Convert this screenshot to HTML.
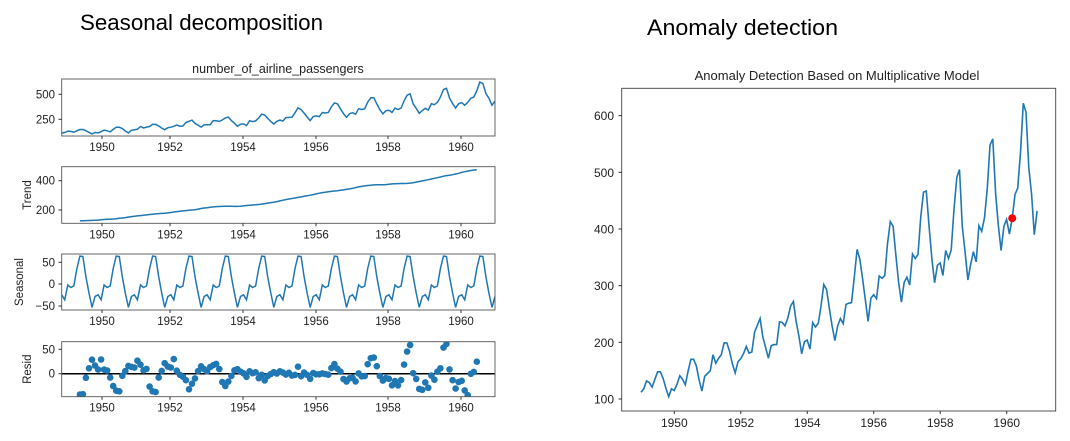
<!DOCTYPE html>
<html><head><meta charset="utf-8"><style>
html,body{margin:0;padding:0;background:#fff;width:1070px;height:441px;overflow:hidden}
svg text{font-family:"Liberation Sans","DejaVu Sans",sans-serif;fill:#222}
</style></head><body>
<svg id="s" width="1070" height="441" xmlns="http://www.w3.org/2000/svg">
<text x="80" y="30" font-size="22" fill="#000" style="fill:#000" textLength="243" lengthAdjust="spacingAndGlyphs">Seasonal decomposition</text>
<text x="647" y="35" font-size="22" style="fill:#000" textLength="191" lengthAdjust="spacingAndGlyphs">Anomaly detection</text>
<text x="278" y="73" font-size="12.5" text-anchor="middle">number_of_airline_passengers</text>
<text x="837" y="80" font-size="13" text-anchor="middle">Anomaly Detection Based on Multiplicative Model</text>
<g id="g"></g>
</svg>
<script>
var y=[112,118,132,129,121,135,148,148,136,119,104,118,115,126,141,135,125,149,170,170,158,133,114,140,145,150,178,163,172,178,199,199,184,162,146,166,171,180,193,181,183,218,230,242,209,191,172,194,196,196,236,235,229,243,264,272,237,211,180,201,204,188,235,227,234,264,302,293,259,229,203,229,242,233,267,269,270,315,364,347,312,274,237,278,284,277,317,313,318,374,413,405,355,306,271,306,315,301,356,348,355,422,465,467,404,347,305,336,340,318,362,348,363,435,491,505,404,359,310,337,360,342,406,396,420,472,548,559,463,407,362,405,417,391,419,461,472,535,622,606,508,461,390,432];
var n=144,tr=[],se=[],re=[];
for(var i=0;i<n;i++){if(i<6||i>n-7){tr.push(null);continue}var s=0.5*y[i-6]+0.5*y[i+6];for(var k=-5;k<=5;k++)s+=y[i+k];tr.push(s/12);}
var m=[];for(var j=0;j<12;j++){var s=0,c=0;for(var i=j;i<n;i+=12)if(tr[i]!=null){s+=y[i]-tr[i];c++}m.push(s/c)}
var mm=m.reduce(function(a,b){return a+b})/12;for(var j=0;j<12;j++)m[j]-=mm;
for(var i=0;i<n;i++){se.push(m[i%12]);re.push(tr[i]==null?null:y[i]-tr[i]-m[i%12]);}
var out='<defs>';var P=[[79,136],[166.7,223.3],[254,310],[341.7,396.7]];
P.forEach(function(p,k){out+='<clipPath id="c'+k+'"><rect x="61.7" y="'+p[0]+'" width="433.3" height="'+(p[1]-p[0])+'"/></clipPath>'});
out+='</defs>';
function lx(i){return 61.7+i/12*36.36}
function path(arr,fy){var d='',st=false;for(var i=0;i<n;i++){if(arr[i]==null)continue;d+=(st?'L':'M')+lx(i).toFixed(1)+' '+fy(arr[i]).toFixed(1);st=true}return d}
var fys=[function(v){return 94.3-(v-500)*0.1},function(v){return 180.7-(v-400)*0.1465},function(v){return 284-v*0.437},function(v){return 373.7-v*0.488}];
var ticks=[[[500,94.3],[250,119.3]],[[400,180.7],[200,210]],[[50,262.3],[0,284],['\u221250',306]],[[50,349.3],[0,373.7]]];
var labels=['','Trend','Seasonal','Resid'];
var xt=[102,170,243,316,388,461];
P.forEach(function(p,k){
 var c='#1f77b4';
 if(k<3)out+='<path d="'+path([y,tr,se][k],fys[k])+'" fill="none" stroke="'+c+'" stroke-width="1.5" clip-path="url(#c'+k+')"/>';
 else{out+='<line x1="61.7" x2="495" y1="373.7" y2="373.7" stroke="#000" stroke-width="1.5"/><g clip-path="url(#c3)">';for(var i=0;i<n;i++)if(re[i]!=null)out+='<circle cx="'+lx(i).toFixed(1)+'" cy="'+fys[3](re[i]).toFixed(1)+'" r="3.3" fill="'+c+'"/>';out+='</g>';}
 out+='<rect x="61.7" y="'+p[0]+'" width="433.3" height="'+(p[1]-p[0])+'" fill="none" stroke="#555" stroke-width="0.9"/>';
 ticks[k].forEach(function(t){out+='<line x1="58.5" x2="61.7" y1="'+t[1]+'" y2="'+t[1]+'" stroke="#333"/><text x="55" y="'+(t[1]+4)+'" font-size="11.5" text-anchor="end">'+t[0]+'</text>'});
 xt.forEach(function(x,q){out+='<line x1="'+x+'" x2="'+x+'" y1="'+p[1]+'" y2="'+(p[1]+3)+'" stroke="#333"/><text x="'+x+'" y="'+(p[1]+15)+'" font-size="11.5" text-anchor="middle">'+(1950+2*q)+'</text>'});
 if(labels[k])out+='<text transform="translate('+(k==2?23:31)+','+((p[0]+p[1])/2)+') rotate(-90)" font-size="11.5" text-anchor="middle">'+labels[k]+'</text>';
});
// right chart
function rx(i){return 641+i/12*33.24}function ry(v){return 399-(v-100)*0.5667}
var d='';for(var i=0;i<n;i++)d+=(i?'L':'M')+rx(i).toFixed(1)+' '+ry(y[i]).toFixed(1);
out+='<path d="'+d+'" fill="none" stroke="#1f77b4" stroke-width="1.6"/>';
out+='<circle cx="'+rx(134).toFixed(1)+'" cy="'+ry(419).toFixed(1)+'" r="4" fill="#f00"/>';
out+='<rect x="621.7" y="88.3" width="434" height="322.7" fill="none" stroke="#444" stroke-width="0.9"/>';
[100,200,300,400,500,600].forEach(function(v){var yy=ry(v);out+='<line x1="618.5" x2="621.7" y1="'+yy+'" y2="'+yy+'" stroke="#333"/><text x="614" y="'+(yy+4.5)+'" font-size="12" text-anchor="end">'+v+'</text>'});
for(var q=0;q<6;q++){var x=674.3+q*66.48;out+='<line x1="'+x+'" x2="'+x+'" y1="411" y2="414" stroke="#333"/><text x="'+x+'" y="427" font-size="12" text-anchor="middle">'+(1950+2*q)+'</text>'}
document.getElementById('g').innerHTML=out;
</script>
</body></html>
